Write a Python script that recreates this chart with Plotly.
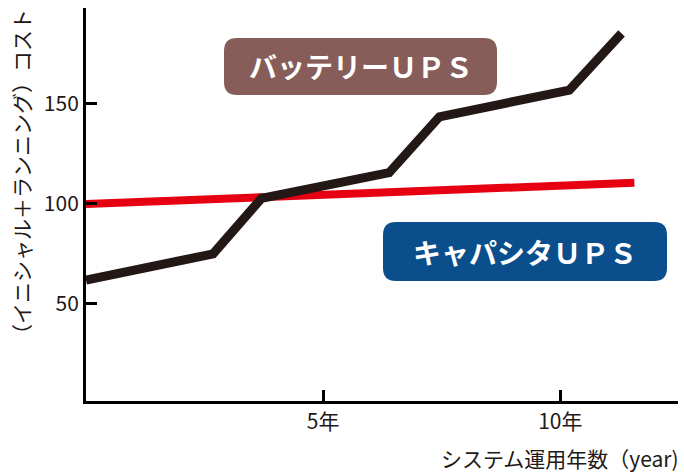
import plotly.graph_objects as go

# data
battery_years = [0, 2.68, 3.70, 6.39, 7.45, 10.19, 11.29]
battery_cost = [61.8, 74.9, 102.7, 115.5, 143.5, 156.9, 185.3]
capacitor_years = [0, 11.56]
capacitor_cost = [99.8, 110.5]
x_tick_vals = [5, 10]
x_tick_text = ["5年", "10年"]
y_tick_vals = [50, 100, 150]
y_tick_text = ["50", "100", "150"]
label_battery = "バッテリーＵＰＳ"
label_capacitor = "キャパシタＵＰＳ"
x_title = "システム運用年数（year)"
y_title = "（イニシャル＋ランニング）コスト"

W, H = 684, 474
L, R, T, B = 86, 6, 8, 73
PW, PH = W - L - R, H - T - B

FONT = "Noto Sans CJK JP"

fig = go.Figure()
fig.add_trace(go.Scatter(x=capacitor_years, y=capacitor_cost, mode="lines",
                         line=dict(color="#e60012", width=8), showlegend=False,
                         hoverinfo="skip"))
fig.add_trace(go.Scatter(x=battery_years, y=battery_cost, mode="lines",
                         line=dict(color="#231815", width=9), showlegend=False,
                         hoverinfo="skip"))


def px2paper(px, py):
    return (px - L) / PW, (H - B - py) / PH


def rounded_rect(x0, y0, x1, y1, r):
    def P(x, y):
        a, b = px2paper(x, y)
        return f"{a:.5f},{b:.5f}"
    path = (f"M {P(x0 + r, y0)} L {P(x1 - r, y0)} Q {P(x1, y0)} {P(x1, y0 + r)} "
            f"L {P(x1, y1 - r)} Q {P(x1, y1)} {P(x1 - r, y1)} "
            f"L {P(x0 + r, y1)} Q {P(x0, y1)} {P(x0, y1 - r)} "
            f"L {P(x0, y0 + r)} Q {P(x0, y0)} {P(x0 + r, y0)} Z")
    return path


boxes = [
    (224, 38, 497, 95, "#875d5a", label_battery),
    (383, 222, 667, 281, "#0b4e8c", label_capacitor),
]
for x0, y0, x1, y1, col, txt in boxes:
    fig.add_shape(type="path", path=rounded_rect(x0, y0, x1, y1, 13),
                  xref="paper", yref="paper", fillcolor=col,
                  line=dict(width=0), layer="above")
    cx, cy = px2paper((x0 + x1) / 2, (y0 + y1) / 2)
    fig.add_annotation(x=cx, y=cy, xref="paper", yref="paper", text=f"<b>{txt}</b>",
                       showarrow=False, font=dict(family=FONT, size=28, color="white"),
                       xanchor="center", yanchor="middle")

# axis titles
ax, ay = px2paper(681, 458)
fig.add_annotation(x=ax, y=ay, xref="paper", yref="paper", text=x_title,
                   showarrow=False, xanchor="right", yanchor="middle",
                   font=dict(family=FONT, size=21, color="#231815"))
ax, ay = px2paper(21, 177)
fig.add_annotation(x=ax, y=ay, xref="paper", yref="paper", text=y_title,
                   showarrow=False, textangle=-90, xanchor="center", yanchor="middle",
                   font=dict(family=FONT, size=21, color="#231815"))

fig.update_layout(
    width=W, height=H,
    margin=dict(l=L, r=R, t=T, b=B),
    paper_bgcolor="white", plot_bgcolor="white",
    font=dict(family=FONT, color="#231815"),
    xaxis=dict(range=[0, 12.48], showgrid=False, zeroline=False,
               showline=True, linecolor="black", linewidth=3,
               ticks="inside", ticklen=11, tickwidth=3, tickcolor="black",
               tickvals=x_tick_vals, ticktext=x_tick_text,
               tickfont=dict(family=FONT, size=21, color="#231815")),
    yaxis=dict(range=[1.2, 198], showgrid=False, zeroline=False,
               showline=True, linecolor="black", linewidth=3,
               ticks="inside", ticklen=11, tickwidth=3, tickcolor="black",
               tickvals=y_tick_vals, ticktext=y_tick_text,
               tickfont=dict(family=FONT, size=21, color="#231815")),
)

fig.write_html("out.html", config={"displayModeBar": False},
               post_script="document.body.style.margin='0';document.body.style.overflow='hidden';")
